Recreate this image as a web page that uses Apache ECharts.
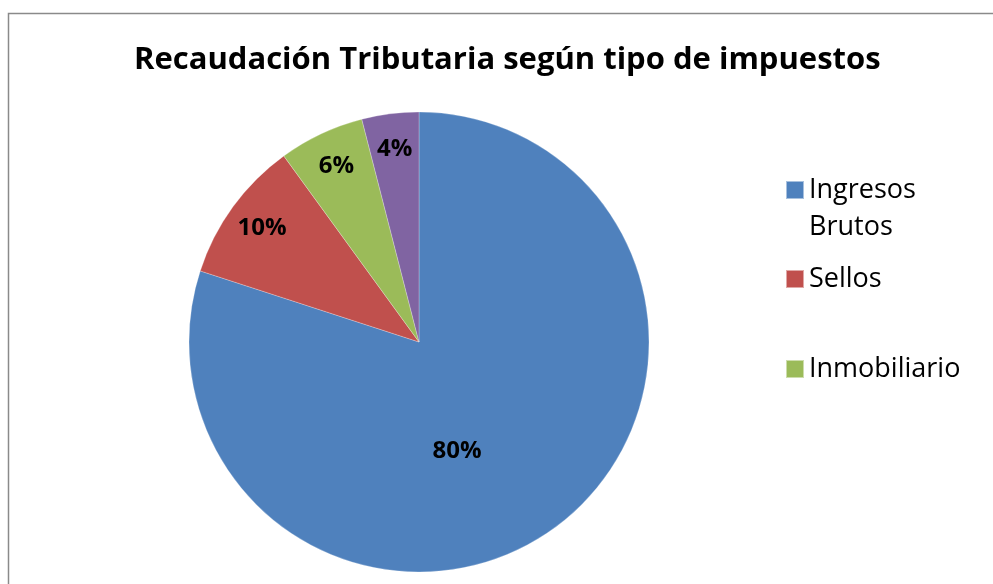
<!DOCTYPE html>
<html><head><meta charset="utf-8">
<script src="https://cdn.jsdelivr.net/npm/echarts@6/dist/echarts.min.js"></script>
<style>html,body{margin:0;padding:0;background:#fff}#c{width:993px;height:584px}</style>
</head><body><div id="c"></div>
<script>
const titleText = 'Recaudación Tributaria según tipo de impuestos';
const categories = ['Ingresos Brutos', 'Sellos', 'Inmobiliario', 'Otros'];
const values = [80, 10, 6, 4];
const legendNames = ['Ingresos Brutos', 'Sellos', 'Inmobiliario'];
const colors = ['#4F81BD', '#C0504D', '#9BBB59', '#8064A2'];

const FONT = 'Open Sans';
const data = categories.map((n, i) => ({ name: n, value: values[i] }));
const center = [419, 342];
const R = 230;

const chart = echarts.init(document.getElementById('c'), null, { renderer: 'canvas' });

const legendTops = [134.5, 260.5, 350.5];
const legends = legendNames.map((n, i) => ({
  data: [n],
  orient: 'vertical',
  left: 785,
  top: legendTops[i],
  padding: 0,
  itemWidth: 18,
  itemHeight: 18,
  itemGap: 0,
  icon: 'rect',
  selectedMode: false,
  formatter: name => (i === 0 ? '\n' + name.replace(' ', '\n') : name),
  textStyle: { fontFamily: FONT, fontSize: 27, color: '#000', lineHeight: 37 }
}));

chart.setOption({
  animation: false,
  color: colors,
  title: {
    text: titleText,
    left: 129,
    top: 40,
    textStyle: { fontFamily: FONT, fontSize: 31, fontWeight: 'bold', color: '#000' }
  },
  legend: legends,
  graphic: [{
    type: 'rect',
    shape: { x: 8.5, y: 13.5, width: 1100, height: 700 },
    style: { fill: null, stroke: '#8a8a8a', lineWidth: 1.5 },
    silent: true
  }],
  series: [
    {
      type: 'pie',
      center: center,
      radius: R,
      startAngle: 90,
      clockwise: true,
      silent: true,
      label: { show: false },
      labelLine: { show: false },
      itemStyle: { borderColor: 'rgba(255,255,255,0.5)', borderWidth: 0.5 },
      data: data
    },
    {
      type: 'pie',
      center: center,
      radius: [R * 0.66, R * 1.0],
      startAngle: 90,
      silent: true,
      itemStyle: { color: 'transparent' },
      label: {
        show: true, position: 'inside',
        formatter: p => p.dataIndex === 0 ? '' : p.value + '%',
        fontFamily: FONT, fontSize: 24, fontWeight: 'bold', color: '#000'
      },
      labelLine: { show: false },
      data: data
    },
    {
      type: 'pie',
      center: center,
      radius: [0, R * 0.98],
      startAngle: 90,
      silent: true,
      itemStyle: { color: 'transparent' },
      label: {
        show: true, position: 'inside',
        formatter: p => p.dataIndex === 0 ? p.value + '%' : '',
        fontFamily: FONT, fontSize: 24, fontWeight: 'bold', color: '#000'
      },
      labelLayout: p => (p.dataIndex === 0 ? { dx: -30, dy: 16 } : {}),
      labelLine: { show: false },
      data: data
    }
  ]
});
</script></body></html>
